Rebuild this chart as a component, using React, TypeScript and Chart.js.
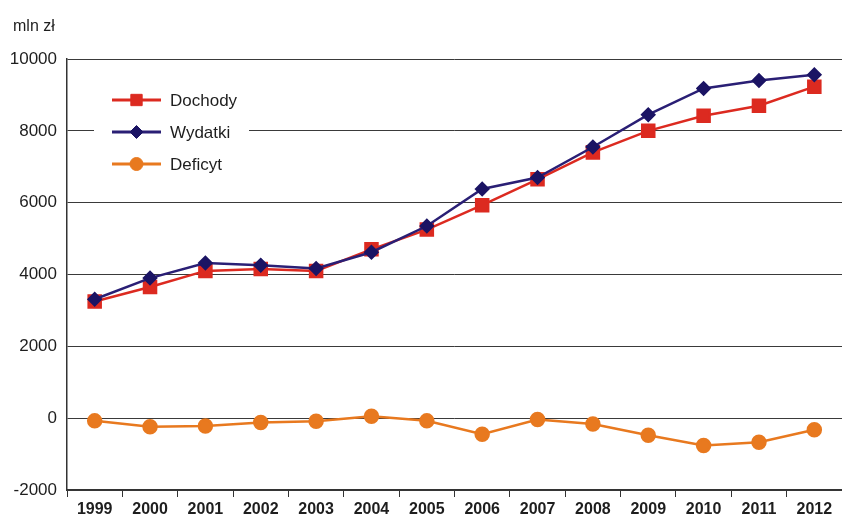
import React, { useEffect, useRef } from 'react';
import { Chart, registerables } from 'chart.js';

Chart.register(...registerables);

const years = ['1999', '2000', '2001', '2002', '2003', '2004', '2005', '2006', '2007', '2008', '2009', '2010', '2011', '2012'];
const dochody = [3250, 3650, 4100, 4150, 4100, 4700, 5250, 5930, 6650, 7400, 8000, 8420, 8700, 9230];
const wydatki = [3310, 3900, 4320, 4260, 4170, 4620, 5350, 6380, 6700, 7550, 8450, 9180, 9400, 9560];
const deficyt = [-75, -240, -220, -120, -85, 55, -75, -445, -40, -160, -475, -760, -670, -325];
const yMin = -2000;
const yMax = 10000;
const yStep = 2000;
const unitLabel = 'mln zł';
const seriesNames = ['Dochody', 'Wydatki', 'Deficyt'];

const RED = '#dc2a20';
const NAVY_LINE = '#2a1f75';
const NAVY_POINT = '#1b1464';
const ORANGE = '#e8791f';
const FONT = "'Liberation Sans', Arial, sans-serif";
const TEXT = '#1e1e1e';

const legendItems = [
  { label: seriesNames[0], color: RED, pointColor: RED, style: 'rect', r: 8 },
  { label: seriesNames[1], color: NAVY_LINE, pointColor: NAVY_POINT, style: 'rectRot', r: 6.5 },
  { label: seriesNames[2], color: ORANGE, pointColor: ORANGE, style: 'circle', r: 6.5 },
];

const overlayPlugin = {
  id: 'overlay',
  afterDraw(chart: any) {
    const ctx = chart.ctx;
    const area = chart.chartArea;
    ctx.save();
    ctx.fillStyle = TEXT;
    ctx.font = `16px ${FONT}`;
    ctx.textAlign = 'left';
    ctx.textBaseline = 'middle';
    ctx.fillText(unitLabel, 13, 27);
    const bx = area.left + 27;
    const by = area.top + 22;
    ctx.fillStyle = '#ffffff';
    ctx.fillRect(bx, by, 155, 100);
    legendItems.forEach((it, i) => {
      const cy = by + 19 + i * 32;
      const x0 = area.left + 45;
      const x1 = area.left + 94;
      ctx.strokeStyle = it.color;
      ctx.lineWidth = 3;
      ctx.beginPath();
      ctx.moveTo(x0, cy);
      ctx.lineTo(x1, cy);
      ctx.stroke();
      ctx.fillStyle = it.pointColor;
      ctx.strokeStyle = it.pointColor;
      ctx.lineWidth = 1;
      const cx = (x0 + x1) / 2;
      ctx.beginPath();
      if (it.style === 'rect') {
        const s = it.r * Math.SQRT1_2;
        ctx.rect(cx - s, cy - s, 2 * s, 2 * s);
      } else if (it.style === 'rectRot') {
        ctx.moveTo(cx - it.r, cy);
        ctx.lineTo(cx, cy - it.r);
        ctx.lineTo(cx + it.r, cy);
        ctx.lineTo(cx, cy + it.r);
        ctx.closePath();
      } else {
        ctx.arc(cx, cy, it.r, 0, Math.PI * 2);
      }
      ctx.fill();
      ctx.stroke();
      ctx.fillStyle = TEXT;
      ctx.font = `17px ${FONT}`;
      ctx.textAlign = 'left';
      ctx.textBaseline = 'middle';
      ctx.fillText(it.label, area.left + 103, cy + 1);
    });
    ctx.restore();
  },
};

export default function App() {
  const ref = useRef<HTMLCanvasElement>(null);

  useEffect(() => {
    document.body.style.margin = '0';
    const canvas = ref.current!;
    const chart = new Chart(canvas, {
      type: 'line',
      data: {
        labels: years,
        datasets: [
          {
            label: seriesNames[0],
            data: dochody,
            borderColor: RED,
            backgroundColor: RED,
            pointBackgroundColor: RED,
            pointBorderColor: RED,
            pointStyle: 'rect',
            pointRadius: 8.5,
            borderWidth: 2.5,
            tension: 0,
            order: 1,
          },
          {
            label: seriesNames[1],
            data: wydatki,
            borderColor: NAVY_LINE,
            backgroundColor: NAVY_POINT,
            pointBackgroundColor: NAVY_POINT,
            pointBorderColor: NAVY_POINT,
            pointStyle: 'rectRot',
            pointRadius: 6,
            borderWidth: 2.5,
            tension: 0,
            order: 0,
          },
          {
            label: seriesNames[2],
            data: deficyt,
            borderColor: ORANGE,
            backgroundColor: ORANGE,
            pointBackgroundColor: ORANGE,
            pointBorderColor: ORANGE,
            pointStyle: 'circle',
            pointRadius: 6.5,
            borderWidth: 2.5,
            tension: 0,
            order: 2,
          },
        ],
      },
      options: {
        responsive: false,
        animation: false,
        devicePixelRatio: 1,
        layout: { autoPadding: false, padding: { top: 59, right: 0, left: 0, bottom: 0 } },
        plugins: {
          legend: { display: false },
          tooltip: { enabled: false },
          title: { display: false },
        },
        scales: {
          x: {
            offset: true,
            grid: {
              display: true,
              offset: true,
              drawOnChartArea: false,
              drawTicks: true,
              tickLength: 7,
              color: '#333333',
            },
            border: { display: true, color: '#333333', width: 1.5 },
            ticks: {
              color: TEXT,
              font: { family: FONT, size: 16, weight: 'bold' },
              padding: 3,
              maxRotation: 0,
              autoSkip: false,
            },
            afterFit(scale: any) {
              scale.height = 29;
              scale.paddingLeft = 0;
              scale.paddingRight = 0;
            },
          },
          y: {
            min: yMin,
            max: yMax,
            ticks: {
              stepSize: yStep,
              color: TEXT,
              font: { family: FONT, size: 17 },
              padding: 10,
              callback: (v: any) => String(v),
            },
            grid: {
              color: '#3a3a3a',
              lineWidth: 1,
              drawTicks: false,
              tickLength: 0,
            },
            border: { display: true, color: '#333333', width: 1.5 },
            afterFit(scale: any) {
              scale.width = 67;
              scale.paddingTop = 0;
              scale.paddingBottom = 0;
            },
          },
        },
      },
      plugins: [overlayPlugin],
    });
    return () => chart.destroy();
  }, []);

  return <canvas ref={ref} width={842} height={519} style={{ display: 'block' }} />;
}
